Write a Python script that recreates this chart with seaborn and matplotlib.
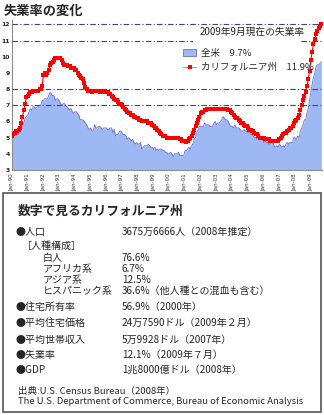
import matplotlib
matplotlib.use("Agg")
import matplotlib.pyplot as plt
import seaborn as sns
import numpy as np
import pandas as pd
from matplotlib.patches import Rectangle, Patch
from matplotlib.lines import Line2D

# ---------------- data (monthly, Jan 1990 - Sep 2009) ----------------
us_rate = [
    5.4, 5.3, 5.2, 5.4, 5.4, 5.2, 5.5, 5.7, 5.9, 5.9, 6.2, 6.3,   # 1990
    6.4, 6.6, 6.8, 6.7, 6.9, 6.9, 6.8, 6.9, 6.9, 7.0, 7.0, 7.3,   # 1991
    7.3, 7.4, 7.4, 7.4, 7.6, 7.8, 7.7, 7.6, 7.6, 7.3, 7.4, 7.4,   # 1992
    7.3, 7.1, 7.0, 7.1, 7.1, 7.0, 6.9, 6.8, 6.7, 6.8, 6.6, 6.5,   # 1993
    6.6, 6.6, 6.5, 6.4, 6.1, 6.1, 6.1, 6.0, 5.9, 5.8, 5.6, 5.5,   # 1994
    5.6, 5.4, 5.4, 5.8, 5.6, 5.6, 5.7, 5.7, 5.6, 5.5, 5.6, 5.6,   # 1995
    5.6, 5.5, 5.5, 5.6, 5.6, 5.3, 5.5, 5.1, 5.2, 5.2, 5.4, 5.4,   # 1996
    5.3, 5.2, 5.2, 5.1, 4.9, 5.0, 4.9, 4.8, 4.9, 4.7, 4.6, 4.7,   # 1997
    4.6, 4.6, 4.7, 4.3, 4.4, 4.5, 4.5, 4.5, 4.6, 4.5, 4.4, 4.4,   # 1998
    4.3, 4.4, 4.2, 4.3, 4.2, 4.3, 4.3, 4.2, 4.2, 4.1, 4.1, 4.0,   # 1999
    4.0, 4.1, 4.0, 3.8, 4.0, 4.0, 4.0, 4.1, 3.9, 3.9, 3.9, 3.9,   # 2000
    4.2, 4.2, 4.3, 4.4, 4.3, 4.5, 4.6, 4.9, 5.0, 5.3, 5.5, 5.7,   # 2001
    5.7, 5.7, 5.7, 5.9, 5.8, 5.8, 5.8, 5.7, 5.7, 5.7, 5.9, 6.0,   # 2002
    5.8, 5.9, 5.9, 6.0, 6.1, 6.3, 6.2, 6.1, 6.1, 6.0, 5.8, 5.7,   # 2003
    5.7, 5.6, 5.8, 5.6, 5.6, 5.6, 5.5, 5.4, 5.4, 5.5, 5.4, 5.4,   # 2004
    5.3, 5.4, 5.2, 5.2, 5.1, 5.0, 5.0, 4.9, 5.0, 5.0, 5.0, 4.9,   # 2005
    4.7, 4.8, 4.7, 4.7, 4.6, 4.6, 4.7, 4.7, 4.5, 4.4, 4.5, 4.4,   # 2006
    4.6, 4.5, 4.4, 4.5, 4.4, 4.6, 4.7, 4.6, 4.7, 4.7, 4.7, 5.0,   # 2007
    5.0, 4.9, 5.1, 5.0, 5.4, 5.6, 5.8, 6.1, 6.1, 6.5, 6.8, 7.3,   # 2008
    7.8, 8.3, 8.7, 9.0, 9.4, 9.5, 9.5, 9.6, 9.7,                  # 2009
]
ca_rate = [
    5.1, 5.2, 5.3, 5.4, 5.4, 5.5, 5.6, 5.9, 6.3, 6.7, 7.1, 7.5,   # 1990
    7.6, 7.7, 7.8, 7.8, 7.9, 7.9, 7.9, 7.9, 7.9, 8.0, 8.0, 8.2,   # 1991
    8.9, 9.0, 8.9, 9.0, 9.2, 9.5, 9.6, 9.7, 9.8, 9.9, 9.9, 9.9,   # 1992
    9.9, 9.9, 9.8, 9.6, 9.5, 9.5, 9.5, 9.4, 9.4, 9.3, 9.3, 9.3,   # 1993
    9.2, 9.2, 9.0, 8.9, 8.8, 8.7, 8.6, 8.4, 8.1, 8.0, 7.9, 7.9,   # 1994
    7.9, 7.8, 7.9, 7.9, 7.9, 7.9, 7.9, 7.8, 7.9, 7.9, 7.8, 7.9,   # 1995
    7.8, 7.8, 7.7, 7.7, 7.6, 7.5, 7.4, 7.3, 7.3, 7.2, 7.1, 7.1,   # 1996
    7.0, 6.9, 6.8, 6.7, 6.6, 6.5, 6.5, 6.4, 6.4, 6.3, 6.3, 6.2,   # 1997
    6.2, 6.1, 6.1, 6.0, 6.0, 6.0, 6.0, 6.0, 5.9, 5.9, 5.9, 5.8,   # 1998
    5.7, 5.6, 5.6, 5.5, 5.4, 5.3, 5.2, 5.1, 5.1, 5.1, 5.0, 5.0,   # 1999
    5.0, 5.0, 5.0, 5.0, 5.0, 5.0, 5.0, 5.0, 4.9, 4.9, 4.8, 4.8,   # 2000
    4.8, 4.7, 4.8, 4.9, 5.0, 5.1, 5.3, 5.5, 5.7, 5.9, 6.1, 6.3,   # 2001
    6.5, 6.6, 6.6, 6.7, 6.7, 6.8, 6.8, 6.8, 6.8, 6.8, 6.8, 6.8,   # 2002
    6.8, 6.8, 6.8, 6.8, 6.8, 6.8, 6.8, 6.8, 6.8, 6.7, 6.7, 6.6,   # 2003
    6.5, 6.4, 6.3, 6.2, 6.2, 6.1, 6.0, 5.9, 5.9, 5.8, 5.7, 5.7,   # 2004
    5.6, 5.5, 5.5, 5.4, 5.4, 5.3, 5.2, 5.2, 5.1, 5.0, 5.0, 5.0,   # 2005
    5.0, 4.9, 4.9, 4.9, 4.9, 4.8, 4.8, 4.8, 4.8, 4.8, 4.8, 4.8,   # 2006
    4.9, 5.0, 5.1, 5.2, 5.3, 5.3, 5.4, 5.5, 5.6, 5.6, 5.7, 5.9,   # 2007
    6.0, 6.1, 6.2, 6.4, 6.7, 7.0, 7.3, 7.6, 7.8, 8.2, 8.6, 9.1,   # 2008
    9.8, 10.3, 10.8, 11.1, 11.4, 11.6, 11.8, 11.9, 12.0,          # 2009
]
tick_labels = ["Jan-%02d" % (y % 100) for y in range(1990, 2010)]
y_ticks = [3, 4, 5, 6, 7, 8, 9, 10, 11, 12]
grid_levels = [7, 8, 11, 12]

legend_title = "2009年9月現在の失業率"
legend_labels = ["全米　9.7%", "カリフォルニア州　11.9%"]

info_title = "数字で見るカリフォルニア州"
info_labels = ["●人口", "［人種構成］", "白人", "アフリカ系", "アジア系", "ヒスパニック系",
               "●住宅所有率", "●平均住宅価格", "●平均世帯収入", "●失業率", "●GDP"]
info_values = ["3675万6666人（2008年推定）", "", "76.6%", "6.7%", "12.5%",
               "36.6%（他人種との混血も含む）", "56.9%（2000年）",
               "24万7590ドル（2009年２月）", "5万9928ドル（2007年）",
               "12.1%（2009年７月）", "1兆8000億ドル（2008年）"]
source_lines = ["出典:U.S. Census Bureau（2008年）",
                "The U.S. Department of Commerce, Bureau of Economic Analysis"]

# ---------------- style ----------------
sns.set_style("white")
plt.rcParams['font.family'] = ['Noto Sans CJK JP', 'DejaVu Sans']

W, H = 324, 415
fig = plt.figure(figsize=(W / 100, H / 100), dpi=100)

def fx(x):
    return x / W

def fy(y):
    return 1 - y / H

df = pd.DataFrame({"month": np.arange(len(us_rate)), "us": us_rate, "ca": ca_rate})

left, right, top, bottom = 12, 322, 20, 170
ax = fig.add_axes([fx(left), fy(bottom), (right - left) / W, (bottom - top) / H])

area_color = "#9DB8F2"
edge_color = "#6C6CD4"
ax.fill_between(df["month"], 3, df["us"], color=area_color, lw=0, zorder=1)
sns.lineplot(data=df, x="month", y="us", ax=ax, color=edge_color, lw=0.6, zorder=2)

for g in grid_levels:
    ax.axhline(g, color="#3F3F96", lw=0.8, ls=(0, (5, 2, 1, 2)), zorder=3)

sns.lineplot(data=df, x="month", y="ca", ax=ax, color="#FF0000", lw=0.8,
             marker="s", markersize=2.6, markeredgewidth=0, zorder=5)

ax.set_xlim(0, 236.5)
ax.set_ylim(3, 12.27)
ax.set_xticks(np.arange(0, 240, 12))
ax.set_xticklabels(tick_labels, rotation=90, fontsize=4, family=['DejaVu Sans'])
ax.set_yticks(y_ticks)
ax.set_yticklabels([str(v) for v in y_ticks], fontsize=4.4, fontweight="bold", family=['DejaVu Sans'])
ax.tick_params(axis="x", length=1.5, width=0.5, pad=1, colors="#333333")
ax.tick_params(axis="y", length=0, pad=1.5)
ax.set_xlabel("")
ax.set_ylabel("")
for s in ["top", "right"]:
    ax.spines[s].set_visible(False)
for s in ["left", "bottom"]:
    ax.spines[s].set_color("#8C8C8C")
    ax.spines[s].set_linewidth(0.8)
ax.grid(False)

# legend background and title
bg = Rectangle((fx(193), fy(80)), (300 - 193) / W, (80 - 27) / H,
               transform=fig.transFigure, facecolor="white", edgecolor="none", zorder=1)
fig.patches.append(bg)
fig.text(fx(200), fy(32), legend_title, fontsize=7, va="center", ha="left", zorder=6)
handles = [Patch(facecolor=area_color, edgecolor=edge_color, lw=0.6),
           Line2D([0], [0], color="#FF6060", lw=0.6, marker="s", markersize=2.6,
                  markerfacecolor="red", markeredgewidth=0)]
fig.legend(handles, legend_labels, loc="upper left",
           bbox_to_anchor=(fx(183), fy(49)), frameon=False, fontsize=6.8,
           handlelength=1.4, handleheight=0.8, handletextpad=0.5,
           labelspacing=0.55, borderpad=0, borderaxespad=0)

# chart title
fig.text(fx(4), fy(11), "失業率の変化", fontsize=9.5, fontweight="bold", va="center", ha="left")

# info box
box = Rectangle((fx(3), fy(412)), (321 - 3) / W, (412 - 193) / H,
                transform=fig.transFigure, facecolor="none", edgecolor="#555555", lw=1.2)
fig.patches.append(box)
fig.text(fx(18), fy(211), info_title, fontsize=9.2, fontweight="bold", va="center", ha="left")

row_y = [232, 245.5, 258, 269, 280, 291, 307, 323, 340, 355, 370]
for lab, val, yy in zip(info_labels, info_values, row_y):
    if lab.startswith("●"):
        lx = 16
    elif lab.startswith("［"):
        lx = 22
    else:
        lx = 43
    fig.text(fx(lx), fy(yy), lab, fontsize=7.2, va="center", ha="left")
    if val:
        fig.text(fx(122), fy(yy), val, fontsize=7.2, va="center", ha="left")

fig.text(fx(18), fy(391), source_lines[0], fontsize=6.8, va="center", ha="left")
fig.text(fx(18), fy(401), source_lines[1], fontsize=6.8, va="center", ha="left")

fig.savefig("out.png", dpi=100)
